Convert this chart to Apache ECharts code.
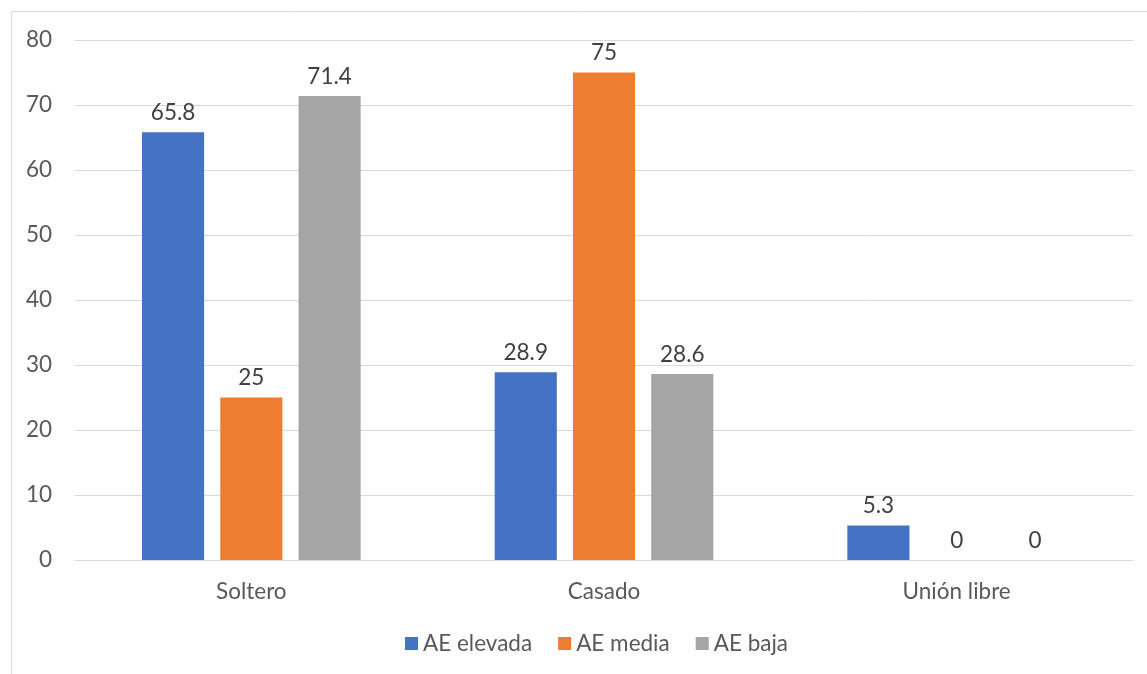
<!DOCTYPE html>
<html><head><meta charset="utf-8">
<script src="https://cdn.jsdelivr.net/npm/echarts@6/dist/echarts.min.js"></script>
<style>html,body{margin:0;padding:0;background:#fff}#c{width:1147px;height:674px}</style>
</head><body><div id="c"></div>
<script>
const categories = ['Soltero', 'Casado', 'Unión libre'];
const seriesNames = ['AE elevada', 'AE media', 'AE baja'];
const aeElevada = [65.8, 28.9, 5.3];
const aeMedia = [25, 75, 0];
const aeBaja = [71.4, 28.6, 0];
const colors = ['#4472C4', '#ED7D31', '#A5A5A5'];
const FONT = 'Lato';
const values = [aeElevada, aeMedia, aeBaja];
const chart = echarts.init(document.getElementById('c'));
chart.setOption({
  animation: false,
  textStyle: {fontFamily: FONT},
  graphic: [{type: 'rect', shape: {x: 11.5, y: 11.5, width: 1150, height: 700}, style: {fill: 'none', stroke: '#d9d9d9', lineWidth: 1}, silent: true}],
  grid: {left: 75, right: 14, top: 40, bottom: 114},
  legend: {
    bottom: 14, left: 400, itemWidth: 13, itemHeight: 13, itemGap: 26, icon: 'rect',
    textStyle: {fontSize: 22.5, color: '#595959', fontFamily: FONT},
    data: seriesNames
  },
  xAxis: {
    type: 'category', data: categories,
    axisLine: {lineStyle: {color: '#d9d9d9'}}, axisTick: {show: false},
    axisLabel: {fontSize: 22.5, color: '#595959', margin: 20}
  },
  yAxis: {
    type: 'value', min: 0, max: 80, interval: 10,
    axisLine: {show: false}, axisTick: {show: false},
    axisLabel: {fontSize: 22.5, color: '#595959', margin: 23},
    splitLine: {lineStyle: {color: '#d9d9d9'}}
  },
  series: seriesNames.map((n, i) => ({
    name: n, type: 'bar', data: values[i],
    barGap: '26%', barCategoryGap: '38%',
    itemStyle: {color: colors[i]},
    label: {show: true, position: 'top', distance: 8, fontSize: 22.5, color: '#404040'}
  }))
});
</script></body></html>
